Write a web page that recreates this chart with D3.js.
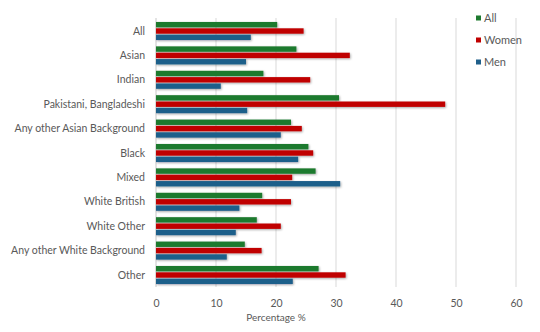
<!DOCTYPE html>
<html><head><meta charset="utf-8">
<script src="https://cdn.jsdelivr.net/npm/d3@7"></script>
<style>body{margin:0;background:#fff}svg{display:block;font-family:"Lato","Open Sans",sans-serif}</style>
</head><body><svg id="c" width="540" height="332"></svg>
<script>
const categories = ["All","Asian","Indian","Pakistani, Bangladeshi","Any other Asian Background","Black","Mixed","White British","White Other","Any other White Background","Other"];
const seriesNames = ["All","Women","Men"];
const allValues   = [20.2,23.4,17.9,30.5,22.5,25.4,26.6,17.7,16.8,14.8,27.1];
const womenValues = [24.6,32.3,25.7,48.2,24.3,26.2,22.7,22.5,20.8,17.6,31.6];
const menValues   = [15.8,15.0,10.8,15.2,20.8,23.7,30.7,13.9,13.3,11.8,22.8];
const xTicks = [0,10,20,30,40,50,60];
const colors = ["#1e7a2f","#c00000","#1f5f8a"];

const svg = d3.select("#c");
const x = d3.scaleLinear().domain([0,60]).range([156,516]);
const y0 = d3.scaleBand().domain(categories).range([18.8,287.2]).paddingInner(0.26).paddingOuter(0.13);
const y1 = d3.scaleBand().domain(seriesNames).range([0,y0.bandwidth()]).paddingInner(0.15);
const seriesVals = [allValues,womenValues,menValues];

const defs = svg.append("defs");
const f = defs.append("filter").attr("id","sh").attr("x","-5%").attr("y","-50%").attr("width","110%").attr("height","250%");
f.append("feDropShadow").attr("dx",0.8).attr("dy",1).attr("stdDeviation",0.8).attr("flood-color","#000").attr("flood-opacity",0.35);

// gridlines
svg.append("g").selectAll("line").data(xTicks.slice(1)).join("line")
  .attr("x1",d=>x(d)).attr("x2",d=>x(d)).attr("y1",18).attr("y2",287)
  .attr("stroke","#d9d9d9").attr("stroke-width",1);
svg.append("line").attr("x1",x(0)).attr("x2",x(0)).attr("y1",18).attr("y2",287).attr("stroke","#c8c8c8");

// bars
const g = svg.append("g").attr("filter","url(#sh)");
categories.forEach((c,i)=>{
  seriesNames.forEach((s,j)=>{
    g.append("rect").attr("x",x(0)).attr("y",y0(c)+y1(s))
     .attr("width",x(seriesVals[j][i])-x(0)).attr("height",y1.bandwidth())
     .attr("fill",colors[j]);
  });
});

// y labels
svg.append("g").selectAll("text").data(categories).join("text")
  .attr("x",145).attr("y",d=>y0(d)+y0.bandwidth()/2).attr("dy","0.35em")
  .attr("text-anchor","end").attr("font-size",10.5).attr("fill","#595959").text(d=>d);

// x axis labels
const xa = svg.append("g").attr("transform","translate(0,303)")
  .call(d3.axisBottom(x).tickValues(xTicks).tickSize(0).tickPadding(0));
xa.select(".domain").remove();
xa.selectAll("text").attr("font-size",10.5).attr("fill","#595959").attr("dy","0.35em").attr("y",0).style("font-family","Lato, 'Open Sans', sans-serif");

svg.append("text").attr("x",276).attr("y",321).attr("text-anchor","middle")
  .attr("font-size",10).attr("fill","#595959").text("Percentage %");

// legend
const lg = svg.append("g");
seriesNames.forEach((s,j)=>{
  const yy = 18 + j*22;
  lg.append("rect").attr("x",476).attr("y",yy-2.5).attr("width",5).attr("height",5).attr("fill",colors[j]);
  lg.append("text").attr("x",484).attr("y",yy).attr("dy","0.35em").attr("font-size",11).attr("fill","#595959").text(s);
});
</script></body></html>
